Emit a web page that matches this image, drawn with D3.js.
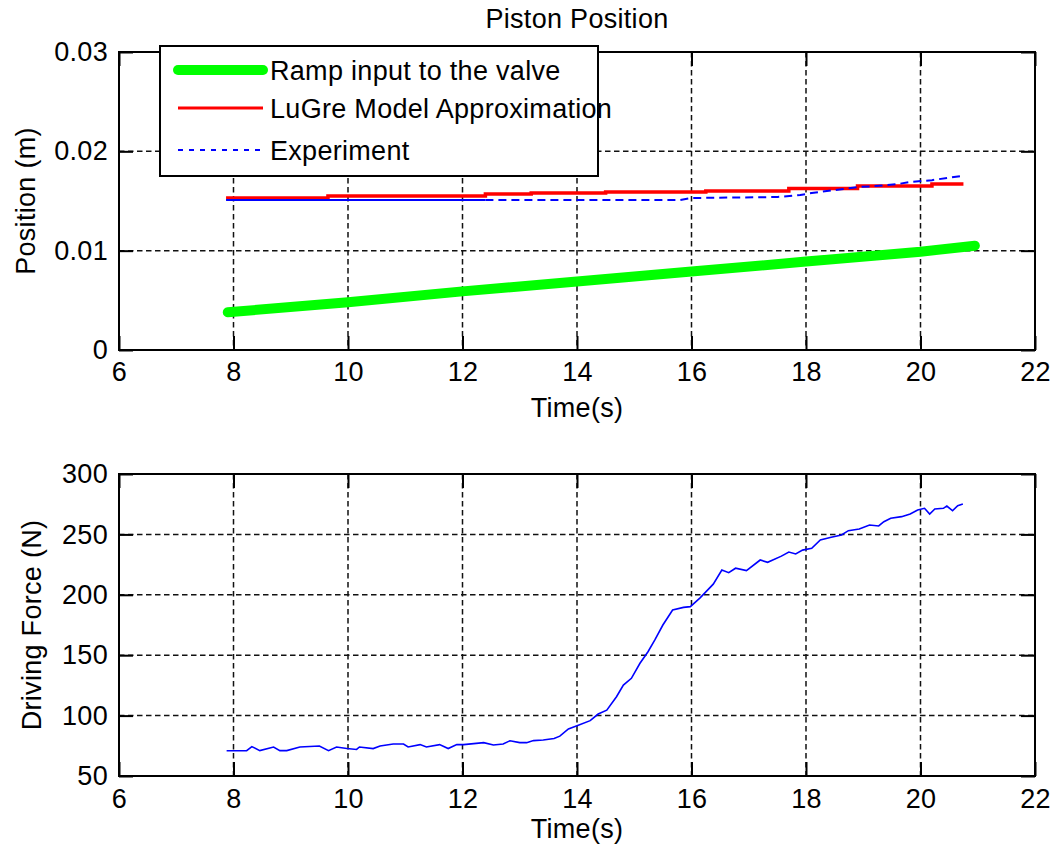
<!DOCTYPE html>
<html>
<head>
<meta charset="utf-8">
<script src="https://cdn.jsdelivr.net/npm/d3@7"></script>
<style>
  html, body { margin: 0; padding: 0; background: #fff; }
  svg { display: block; }
  text { font-family: "Liberation Sans", Arial, sans-serif; font-size: 27px; letter-spacing: 0.3px; fill: #000; }
</style>
</head>
<body>
<svg id="chart" width="1054" height="851"></svg>
<script>
// ---- Data -------------------------------------------------------------
const xTicks = [6, 8, 10, 12, 14, 16, 18, 20, 22];
const posTicks = [0, 0.01, 0.02, 0.03];
const posTickLabels = ["0", "0.01", "0.02", "0.03"];
const forceTicks = [50, 100, 150, 200, 250, 300];

const seriesNames = ["Ramp input to the valve", "LuGre Model Approximation", "Experiment"];

// Ramp input to the valve (m)
const rampT = [7.9, 10, 12, 14, 16, 18, 20, 20.95];
const rampY = [0.0038, 0.0048, 0.0059, 0.0069, 0.0079, 0.0089, 0.0099, 0.0105];

// LuGre model approximation (stepwise, m)
const lugreT = [7.87, 9.65, 12.4, 13.2, 14.5, 16.25, 17.7, 18.9, 20.2, 20.75];
const lugreY = [0.0153, 0.0155, 0.0157, 0.0158, 0.0159, 0.0160, 0.01625, 0.0165, 0.0167, 0.0167];

// Experiment (m)
const expT = [7.87, 12.4, 15.8, 16.0, 17.5, 17.9, 18.1, 18.5, 18.9, 19.2, 19.6, 19.8, 20.2, 20.75];
const expY = [0.0151, 0.0151, 0.0151, 0.0153, 0.0154, 0.0156, 0.0158, 0.0161, 0.0164, 0.0165, 0.0167, 0.0169, 0.0171, 0.01755];
const expSolidUntil = 12.4;

// Driving force (N)
const forceT = [7.88, 8.23, 8.32, 8.46, 8.7, 8.81, 8.93, 9.16, 9.5, 9.66, 9.8, 9.98, 10.15, 10.2,
  10.44, 10.56, 10.79, 10.97, 11.05, 11.26, 11.37, 11.6, 11.75, 11.9, 12.02, 12.37, 12.54, 12.71,
  12.83, 13.0, 13.12, 13.24, 13.41, 13.6, 13.7, 13.85, 14.0, 14.23, 14.37, 14.52, 14.69, 14.81,
  14.95, 15.1, 15.24, 15.36, 15.5, 15.67, 15.86, 15.98, 16.15, 16.38, 16.53, 16.65, 16.77, 16.96,
  17.2, 17.33, 17.57, 17.7, 17.82, 17.94, 18.1, 18.25, 18.44, 18.62, 18.74, 18.93, 19.11, 19.27,
  19.36, 19.48, 19.67, 19.82, 19.95, 20.07, 20.16, 20.25, 20.4, 20.46, 20.56, 20.65, 20.74];
const forceF = [70.9, 71, 74.3, 71, 74, 71, 71, 74, 74.8, 71, 74, 72.7, 72, 74,
  72.7, 74.8, 76.5, 76.5, 74, 76, 74, 76, 72.7, 76, 76, 77.6, 75.7, 76.5,
  79.2, 77.6, 77.6, 79.3, 79.8, 81, 83, 89, 91.6, 95.8, 101.3, 104.5, 115.6, 125.3,
  130.9, 143.3, 152.9, 162.6, 175, 187.4, 189.6, 190.2, 197.5, 208.8, 220.5, 218.3, 222, 220,
  228.8, 226.9, 232, 235.4, 233.8, 237, 238.5, 245.4, 247.6, 249.5, 253.1, 254.5, 257.8, 257,
  260.5, 263.3, 264.7, 266.9, 270.2, 271.6, 266.9, 271, 271.6, 273.5, 269.6, 273.8, 275.2];

// ---- Layout -----------------------------------------------------------
const svg = d3.select("#chart");
const L = 119, R = 1035;
const top1 = 52, bot1 = 350;
const top2 = 474, bot2 = 776;

const x = d3.scaleLinear().domain([6, 22]).range([L, R]);
const yPos = d3.scaleLinear().domain([0, 0.03]).range([bot1, top1]);
const yF = d3.scaleLinear().domain([50, 300]).range([bot2, top2]);

const zip = (a, b) => a.map((v, i) => [v, b[i]]);

function drawFrame(y, top, bot, yTicks, yFmt, xPad) {
  const g = svg.append("g");
  // dashed grid
  g.append("g").selectAll("line").data(xTicks).join("line")
    .attr("x1", d => x(d)).attr("x2", d => x(d)).attr("y1", top).attr("y2", bot)
    .attr("stroke", "#111").attr("stroke-width", 1.5).attr("stroke-dasharray", "5.5,3.5");
  g.append("g").selectAll("line").data(yTicks).join("line")
    .attr("x1", L).attr("x2", R).attr("y1", d => y(d)).attr("y2", d => y(d))
    .attr("stroke", "#111").attr("stroke-width", 1.5).attr("stroke-dasharray", "5.5,3.5");
  // axes with inward ticks on all four sides
  const axB = d3.axisBottom(x).tickValues(xTicks).tickSizeInner(-14).tickSizeOuter(0).tickPadding(xPad).tickFormat(d3.format("d"));
  const axT = d3.axisTop(x).tickValues(xTicks).tickSizeInner(-14).tickSizeOuter(0).tickFormat("");
  const axLft = d3.axisLeft(y).tickValues(yTicks).tickSizeInner(-14).tickSizeOuter(0).tickPadding(11).tickFormat(yFmt);
  const axRt = d3.axisRight(y).tickValues(yTicks).tickSizeInner(-14).tickSizeOuter(0).tickFormat("");
  [[axB, `translate(0,${bot})`], [axT, `translate(0,${top})`], [axLft, `translate(${L},0)`], [axRt, `translate(${R},0)`]]
    .forEach(([ax, tr]) => {
      const a = g.append("g").attr("transform", tr).call(ax);
      a.select(".domain").remove();
      a.selectAll("line").attr("stroke", "#000").attr("stroke-width", 2);
      a.selectAll("text").attr("font-family", null).attr("font-size", null).attr("fill", "#000");
    });
  g.append("rect").attr("x", L).attr("y", top).attr("width", R - L).attr("height", bot - top)
    .attr("fill", "none").attr("stroke", "#000").attr("stroke-width", 2);
  return g;
}

// ---- Top panel: piston position --------------------------------------
drawFrame(yPos, top1, bot1, posTicks, d => posTickLabels[posTicks.indexOf(d)], 12);

const linePos = d3.line().x(d => x(d[0])).y(d => yPos(d[1]));
const stepPos = d3.line().curve(d3.curveStepAfter).x(d => x(d[0])).y(d => yPos(d[1]));

svg.append("path").datum(zip(rampT, rampY)).attr("d", linePos)
  .attr("fill", "none").attr("stroke", "#00ff00").attr("stroke-width", 10).attr("stroke-linecap", "round");
svg.append("path").datum(zip(lugreT, lugreY)).attr("d", stepPos)
  .attr("fill", "none").attr("stroke", "#ff0000").attr("stroke-width", 3.5);
const expPts = zip(expT, expY);
svg.append("path").datum(expPts.filter(d => d[0] <= expSolidUntil)).attr("d", linePos)
  .attr("fill", "none").attr("stroke", "#0000ff").attr("stroke-width", 2);
svg.append("path").datum(expPts.filter(d => d[0] >= expSolidUntil)).attr("d", linePos)
  .attr("fill", "none").attr("stroke", "#0000ff").attr("stroke-width", 2).attr("stroke-dasharray", "8,5");

svg.append("text").attr("x", (L + R) / 2).attr("y", 28).attr("text-anchor", "middle").text("Piston Position");
svg.append("text").attr("x", (L + R) / 2).attr("y", 417).attr("text-anchor", "middle").text("Time(s)");
svg.append("text").attr("transform", `translate(35,${(top1 + bot1) / 2}) rotate(-90)`)
  .attr("text-anchor", "middle").text("Position (m)");

// legend
const leg = svg.append("g");
leg.append("rect").attr("x", 160).attr("y", 46).attr("width", 438).attr("height", 130)
  .attr("fill", "#fff").attr("stroke", "#000").attr("stroke-width", 2);
const legRows = [
  { y: 70, color: "#00ff00", w: 10, dash: null, cap: "round" },
  { y: 108, color: "#ff0000", w: 3, dash: null, cap: "butt" },
  { y: 150, color: "#0000ff", w: 2, dash: "5,6", cap: "butt" }
];
legRows.forEach((r, i) => {
  leg.append("line").attr("x1", 178).attr("x2", 263).attr("y1", r.y).attr("y2", r.y)
    .attr("stroke", r.color).attr("stroke-width", r.w).attr("stroke-linecap", r.cap)
    .attr("stroke-dasharray", r.dash);
  leg.append("text").attr("x", 270).attr("y", r.y + 9.5).text(seriesNames[i]);
});

// ---- Bottom panel: driving force --------------------------------------
drawFrame(yF, top2, bot2, forceTicks, d3.format("d"), 13);
const lineF = d3.line().x(d => x(d[0])).y(d => yF(d[1]));
svg.append("path").datum(zip(forceT, forceF)).attr("d", lineF)
  .attr("fill", "none").attr("stroke", "#0000ff").attr("stroke-width", 1.6);

svg.append("text").attr("x", (L + R) / 2).attr("y", 838).attr("text-anchor", "middle").text("Time(s)");
svg.append("text").attr("transform", `translate(41,${(top2 + bot2) / 2}) rotate(-90)`)
  .attr("text-anchor", "middle").text("Driving Force (N)");
</script>
</body>
</html>
